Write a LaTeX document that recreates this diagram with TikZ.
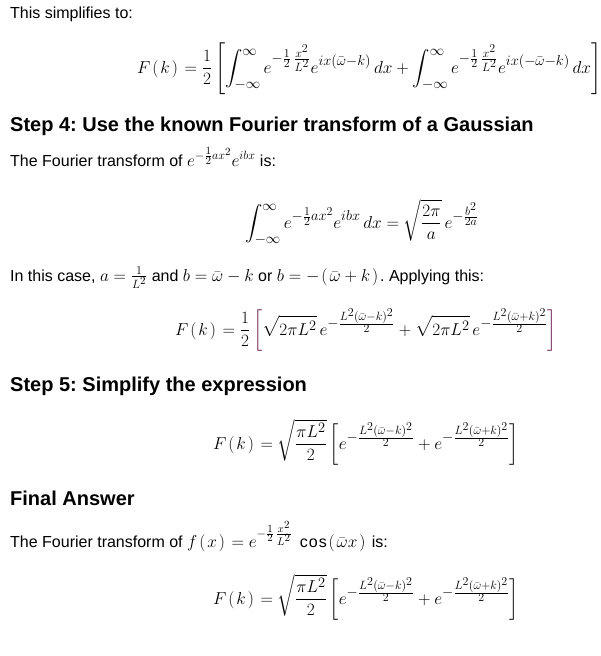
\documentclass[tikz,border=0pt]{standalone}
\usepackage{fontspec}
\setmainfont{Liberation Sans}
\usepackage{amsmath}
\DeclareMathSizes{16}{16}{12.5}{10.5}
\DeclareMathSizes{18}{18}{14}{12}
\frenchspacing
\newcommand{\lpar}{\mkern2mu(\mkern2mu}
\newcommand{\rpar}{\mkern2mu)\mkern2mu}
\definecolor{brk}{RGB}{110,30,80}
\tikzset{
  txt/.style={anchor=base west, inner sep=0pt, font=\fontsize{16}{19}\selectfont},
  head/.style={anchor=base west, inner sep=0pt, font=\fontsize{20}{24}\selectfont\bfseries},
  eqn/.style={anchor=base west, inner sep=0pt, font=\fontsize{18}{21}\selectfont}
}
\begin{document}
\begin{tikzpicture}[x=1pt,y=1pt]
                \useasboundingbox (0,0) rectangle (601,-656) ;
                \draw (10,-18) node[txt] (simp) {This simplifies to:} ;
                \draw (137,-73) node[eqn] (eqA) {$\displaystyle F\lpar k\rpar = \frac{1}{2}\left[\int_{-\infty}^{\infty} e^{-\frac{1}{2}\,\frac{x^2}{L^2}} e^{ix(\bar{\omega}-k)}\,dx + \int_{-\infty}^{\infty} e^{-\frac{1}{2}\,\frac{x^2}{L^2}} e^{ix(-\bar{\omega}-k)}\,dx\right]$} ;
                \draw (10,-131) node[head] (stepfour) {Step 4: Use the known Fourier transform of a Gaussian} ;
                \draw (10,-166) node[txt] (gauss) {The Fourier transform of $e^{-\frac{1}{2}ax^2}e^{ibx}$ is:} ;
                \draw (245,-228) node[eqn] (eqB) {$\displaystyle \int_{-\infty}^{\infty} e^{-\frac{1}{2}ax^2} e^{ibx}\,dx = \sqrt{\frac{2\pi}{a}}\,e^{-\frac{b^2}{2a}}$} ;
                \draw (10,-281) node[txt] (case) {In this case, $a = \frac{1}{L^2}$ and $b = \bar{\omega} - k$ or $b = -\lpar\bar{\omega} + k\rpar$. Applying this:} ;
                \draw (175,-335) node[eqn] (eqC) {$\displaystyle F\lpar k\rpar = \frac{1}{2}\color{brk}\left[\color{black}\sqrt{2\pi L^2}\,e^{-\frac{L^2(\bar{\omega}-k)^2}{2}} + \sqrt{2\pi L^2}\,e^{-\frac{L^2(\bar{\omega}+k)^2}{2}}\color{brk}\right]$} ;
                \draw (10,-391) node[head] (stepfive) {Step 5: Simplify the expression} ;
                \draw (213,-449) node[eqn] (eqD) {$\displaystyle F\lpar k\rpar = \sqrt{\frac{\pi L^2}{2}}\left[e^{-\frac{L^2(\bar{\omega}-k)^2}{2}} + e^{-\frac{L^2(\bar{\omega}+k)^2}{2}}\right]$} ;
                \draw (10,-505) node[head] (final) {Final Answer} ;
                \draw (10,-547) node[txt] (answer) {The Fourier transform of $f\lpar x\rpar = e^{-\frac{1}{2}\,\frac{x^2}{L^2}}\;\operatorname{c\mkern1mu o\mkern1mu s}\lpar\bar{\omega}x\rpar$ is:} ;
                \draw (213,-604) node[eqn] (eqE) {$\displaystyle F\lpar k\rpar = \sqrt{\frac{\pi L^2}{2}}\left[e^{-\frac{L^2(\bar{\omega}-k)^2}{2}} + e^{-\frac{L^2(\bar{\omega}+k)^2}{2}}\right]$} ;
            \end{tikzpicture}
\end{document}
